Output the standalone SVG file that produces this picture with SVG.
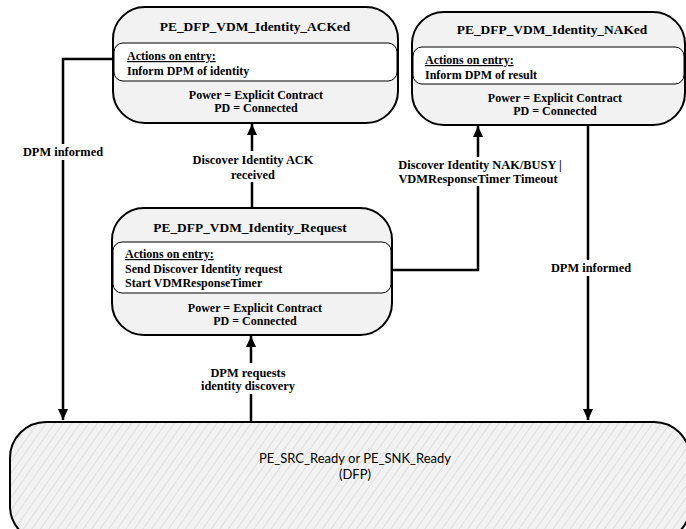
<svg xmlns="http://www.w3.org/2000/svg" width="686" height="529" viewBox="0 0 686 529">
<style>
.outer{fill:#f2f2f2;stroke:#000;stroke-width:2}
.inner{fill:#fff;stroke:#000;stroke-width:1}
.t{font-family:"Liberation Serif",serif;font-weight:bold;fill:#000}
.title{font-size:13.4px;text-anchor:middle}
.body{font-size:12px}
.mid{text-anchor:middle}
.conn{stroke:#000;stroke-width:2.5;fill:none}
.bg{fill:#fff}
.lbl{font-family:"Liberation Serif",serif;font-weight:bold;font-size:12.4px;text-anchor:middle;fill:#000}
.ready{font-family:Lato,"Liberation Sans",sans-serif;font-size:13px;text-anchor:middle;fill:#000}
</style>
<defs>
<marker id="ah" markerUnits="userSpaceOnUse" markerWidth="12" markerHeight="10" refX="11" refY="5" orient="auto">
<path d="M0,0 L11,5 L0,10 z" fill="#000"/>
</marker>
<pattern id="hatch" patternUnits="userSpaceOnUse" width="7" height="7" patternTransform="rotate(35)">
<rect width="7" height="7" fill="#f2f2f2"/>
<line x1="0" y1="0" x2="0" y2="7" stroke="#c8c8c8" stroke-width="1"/>
</pattern>
</defs>

<g id="ready">
<rect x="10" y="422" width="680" height="120" rx="36" fill="url(#hatch)" stroke="#000" stroke-width="2"/>
<text class="ready" x="355" y="463">PE_SRC_Ready or PE_SNK_Ready</text>
<text class="ready" x="355" y="479">(DFP)</text>
</g>

<g id="acked">
<rect class="outer" x="113" y="7" width="285" height="116" rx="32"/>
<rect class="inner" x="114" y="43" width="283" height="38" rx="9"/>
<text class="t title" x="255" y="31">PE_DFP_VDM_Identity_ACKed</text>
<text class="t body" x="127" y="60" text-decoration="underline">Actions on entry:</text>
<text class="t body" x="127" y="75">Inform DPM of identity</text>
<text class="t body mid" x="256" y="99">Power = Explicit Contract</text>
<text class="t body mid" x="256" y="112">PD = Connected</text>
</g>

<g id="naked">
<rect class="outer" x="412" y="12" width="273" height="113" rx="32"/>
<rect class="inner" x="413" y="47" width="271" height="37" rx="9"/>
<text class="t title" x="552" y="34">PE_DFP_VDM_Identity_NAKed</text>
<text class="t body" x="425" y="64" text-decoration="underline">Actions on entry:</text>
<text class="t body" x="425" y="79">Inform DPM of result</text>
<text class="t body mid" x="555" y="102">Power = Explicit Contract</text>
<text class="t body mid" x="555" y="115">PD = Connected</text>
</g>

<g id="request">
<rect class="outer" x="112" y="208" width="280" height="127" rx="32"/>
<rect class="inner" x="113" y="242" width="278" height="51" rx="9"/>
<text class="t title" x="250" y="232">PE_DFP_VDM_Identity_Request</text>
<text class="t body" x="125" y="258" text-decoration="underline">Actions on entry:</text>
<text class="t body" x="125" y="273">Send Discover Identity request</text>
<text class="t body" x="125" y="287">Start VDMResponseTimer</text>
<text class="t body mid" x="255" y="312">Power = Explicit Contract</text>
<text class="t body mid" x="255" y="325">PD = Connected</text>
</g>

<g id="connectors">
<path class="conn" d="M113,59 H63 V420" marker-end="url(#ah)"/>
<path class="conn" d="M252,208 V124" marker-end="url(#ah)"/>
<path class="conn" d="M392,270 H478 V126" marker-end="url(#ah)"/>
<path class="conn" d="M588,125 V420" marker-end="url(#ah)"/>
<path class="conn" d="M251,422 V336" marker-end="url(#ah)"/>

<rect class="bg" x="21" y="144" width="84" height="16"/>
<text class="lbl" x="63" y="156">DPM informed</text>

<rect class="bg" x="184" y="151" width="138" height="31"/>
<text class="lbl" x="253" y="164">Discover Identity ACK</text>
<text class="lbl" x="253" y="179">received</text>

<rect class="bg" x="393" y="157" width="174" height="29"/>
<text class="lbl" x="480" y="169">Discover Identity NAK/BUSY |</text>
<text class="lbl" x="478" y="183">VDMResponseTimer Timeout</text>

<rect class="bg" x="549" y="260" width="84" height="16"/>
<text class="lbl" x="591" y="272">DPM informed</text>

<rect class="bg" x="195" y="363" width="106" height="31"/>
<text class="lbl" x="248" y="377">DPM requests</text>
<text class="lbl" x="248" y="390">identity discovery</text>
</g>
</svg>
